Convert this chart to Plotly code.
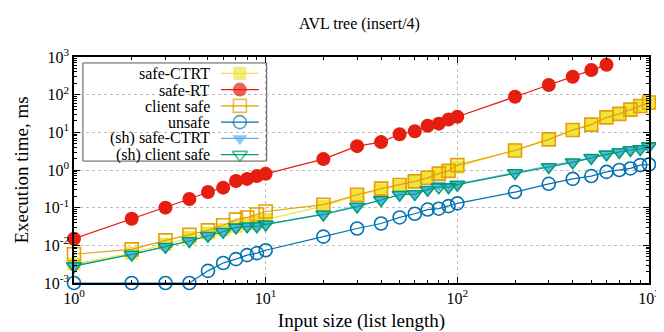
import plotly.graph_objects as go

# input sizes (list length)
n_small = [1, 2, 3, 4, 5, 6, 7, 8, 9, 10]
n_all = n_small + [20, 30, 40, 50, 60, 70, 80, 90, 100,
                   200, 300, 400, 500, 600, 700, 800, 900, 1000]
n_rt = n_all[:24]  # safe-RT stops at 700

# execution time, ms
safe_ctrt = [0.0032, 0.0062, 0.0107, 0.016, 0.021, 0.026, 0.032, 0.038, 0.043, 0.048,
             0.11, 0.21, 0.30, 0.38, 0.48, 0.61, 0.79, 0.93, 1.2,
             3.4, 6.6, 11.3, 16, 26, 30, 38, 48, 58]
safe_rt = [0.015, 0.051, 0.10, 0.17, 0.26, 0.34, 0.51, 0.58, 0.69, 0.79,
           1.95, 4.3, 5.5, 8.9, 10.7, 15, 17, 22, 26,
           88, 180, 300, 450, 620, 830]
client_safe = [0.0058, 0.0078, 0.0135, 0.019, 0.025, 0.034, 0.048, 0.055, 0.066, 0.079,
               0.12, 0.22, 0.32, 0.40, 0.50, 0.62, 0.80, 0.95, 1.35,
               3.3, 6.5, 11.5, 16, 25, 31, 40, 50, 62]
unsafe = [0.001, 0.001, 0.001, 0.001, 0.0021, 0.0034, 0.0043, 0.0055, 0.0062, 0.0074,
          0.017, 0.028, 0.038, 0.055, 0.069, 0.089, 0.094, 0.11, 0.13,
          0.26, 0.43, 0.58, 0.69, 0.89, 1.0, 1.1, 1.35, 1.4]
sh_safe_ctrt = [0.0029, 0.0058, 0.0093, 0.013, 0.018, 0.023, 0.030, 0.032, 0.033, 0.036,
                0.068, 0.11, 0.16, 0.22, 0.24, 0.31, 0.40, 0.37, 0.42,
                0.85, 1.25, 1.65, 2.1, 2.6, 3.0, 3.4, 3.7, 4.4]
sh_client_safe = [0.0028, 0.0057, 0.0092, 0.013, 0.018, 0.023, 0.030, 0.032, 0.032, 0.036,
                  0.066, 0.107, 0.16, 0.22, 0.23, 0.30, 0.35, 0.35, 0.41,
                  0.83, 1.2, 1.6, 2.1, 2.6, 3.0, 3.4, 3.6, 4.3]

series = [
    # name, x, y, colour, symbol, marker size
    ("safe-CTRT", n_all, safe_ctrt, "#f0e442", "square", 13),
    ("safe-RT", n_rt, safe_rt, "#e51e10", "circle", 14),
    ("client safe", n_all, client_safe, "#e69f00", "square-open", 13),
    ("unsafe", n_all, unsafe, "#0072b2", "circle-open", 13),
    ("(sh) safe-CTRT", n_all, sh_safe_ctrt, "#56b4e9", "triangle-down", 13),
    ("(sh) client safe", n_all, sh_client_safe, "#009e73", "triangle-down-open", 13),
]

decades = [-3, -2, -1, 0, 1, 2, 3]
y_tickvals = [10 ** e for e in decades]
y_ticktext = ["10<sup>%d</sup>" % e for e in decades]
x_tickvals = [10 ** e for e in range(0, 4)]
x_ticktext = ["10<sup>%d</sup>" % e for e in range(0, 4)]
x_minor = [k * 10 ** e for e in range(0, 3) for k in range(2, 10)]
y_minor = [k * 10.0 ** e for e in range(-3, 3) for k in range(2, 10)]

# plot area in pixels (for the hand-made gnuplot-style legend)
W, H = 664, 332
L, R, T, B = 62, 23, 49, 55
pw, ph = W - L - R, H - T - B


def px_x(p):
    return (p - L) / pw


def px_y(p):
    return (H - B - p) / ph


fig = go.Figure()

for name, xs, ys, col, sym, size in series:
    open_sym = sym.endswith("open")
    fig.add_trace(go.Scatter(
        x=xs, y=ys, name=name, mode="lines+markers",
        line=dict(color=col, width=1.2),
        marker=dict(symbol=sym, size=size, color=col,
                    line=dict(width=1.6 if open_sym else 0, color=col)),
        cliponaxis=False, showlegend=False,
    ))

# gnuplot-style key: text on the left, sample on the right
row_y0, row_dy = 65.5, 16.4
for i, (name, xs, ys, col, sym, size) in enumerate(series):
    yy = px_y(row_y0 + i * row_dy)
    open_sym = sym.endswith("open")
    fig.add_trace(go.Scatter(
        x=[px_x(210), px_x(229), px_x(248)], y=[yy, yy, yy],
        xaxis="x2", yaxis="y2", mode="lines+markers",
        line=dict(color=col, width=1.2),
        marker=dict(symbol=sym, size=[0, size, 0], color=col,
                    line=dict(width=1.6 if open_sym else 0, color=col)),
        hoverinfo="skip", showlegend=False,
    ))
    fig.add_annotation(x=px_x(201), y=yy, xref="paper", yref="paper", text=name,
                       showarrow=False, xanchor="right", yanchor="middle",
                       height=16, valign="middle",
                       font=dict(size=16, color="black"))

fig.add_shape(type="rect", xref="paper", yref="paper", layer="between",
              x0=px_x(71), x1=px_x(256), y0=px_y(154), y1=px_y(55),
              line=dict(color="#555555", width=1), fillcolor="white")

axis_common = dict(
    type="log", showline=True, linecolor="black", linewidth=1.5,
    mirror="allticks", ticks="inside", ticklen=6, tickwidth=1, tickcolor="black",
    showgrid=True, gridcolor="#bdbdbd", griddash="dot", gridwidth=1,
    zeroline=False, tickfont=dict(size=16),
)

fig.update_layout(
    width=W, height=H,
    margin=dict(l=L, r=R, t=T, b=B),
    plot_bgcolor="white", paper_bgcolor="white",
    font=dict(family="Liberation Serif", size=16, color="black"),
    showlegend=False,
    title=dict(text="AVL tree (insert/4)", x=(L + pw / 2) / W, xanchor="center",
               y=1 - 15 / H, yanchor="middle", font=dict(size=16)),
    xaxis=dict(axis_common, range=[0, 3], tickmode="array",
               tickvals=x_tickvals, ticktext=x_ticktext,
               minor=dict(tickmode="array", tickvals=x_minor, ticks="inside",
                          ticklen=3, tickcolor="black", showgrid=False),
               title=dict(text="Input size (list length)", standoff=8)),
    yaxis=dict(axis_common, range=[-3, 3], tickmode="array",
               tickvals=y_tickvals, ticktext=y_ticktext,
               minor=dict(tickmode="array", tickvals=y_minor, ticks="inside",
                          ticklen=3, tickcolor="black", showgrid=False),
               title=dict(text="Execution time, ms", standoff=10)),
    xaxis2=dict(overlaying="x", range=[0, 1], visible=False),
    yaxis2=dict(overlaying="y", range=[0, 1], visible=False),
)

fig.write_html("out.html")
